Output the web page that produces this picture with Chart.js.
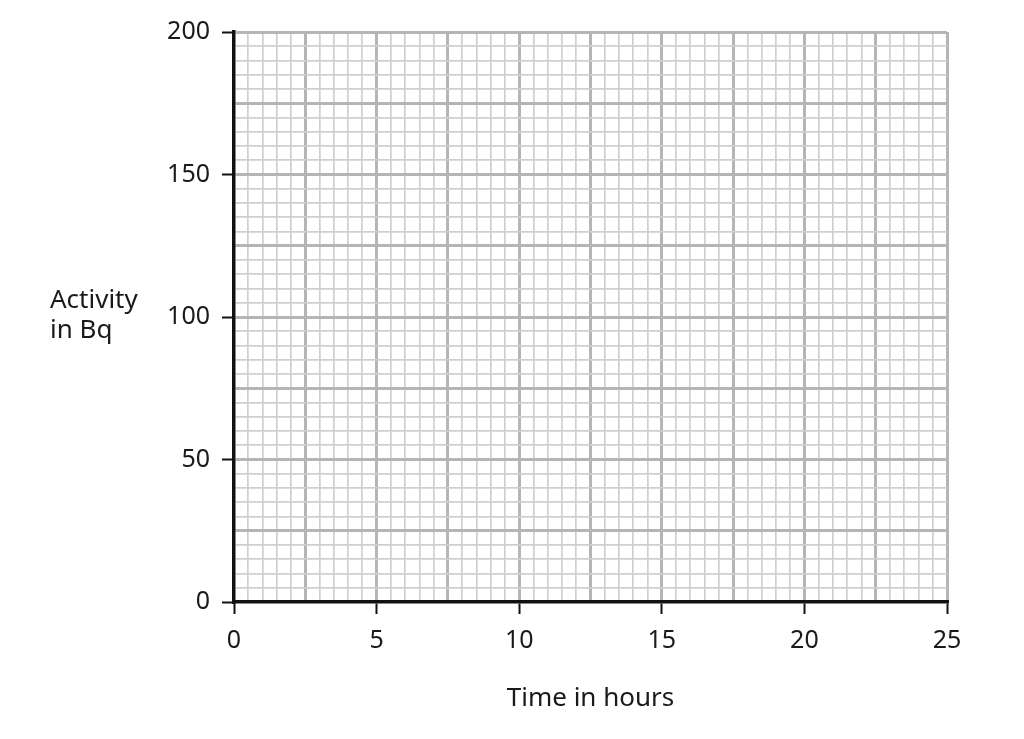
<!DOCTYPE html>
<html>
<head>
<meta charset="utf-8">
<script src="https://cdn.jsdelivr.net/npm/chart.js@4"></script>
<style>
  html, body { margin: 0; padding: 0; background: #fff; }
  #wrap { width: 1024px; height: 739px; position: relative; }
</style>
</head>
<body>
<div id="wrap"><canvas id="graph-paper" width="1024" height="739"></canvas></div>
<script>
/*----- data -----*/
const xLabels = [0, 5, 10, 15, 20, 25]
const yLabels = [0, 50, 100, 150, 200]
const xMajor = 2.5
const yMajor = 25
const xMinor = 0.5
const yMinor = 5
const xTitle = "Time in hours"
const yTitle = ["Activity", "in Bq"]
const readings = []   // empty sheet: no points plotted yet

/*----- helpers -----*/
const FONT = "'Noto Sans', 'Open Sans', sans-serif"
const near = (v, step) => Math.abs(v / step - Math.round(v / step)) < 1e-6

function gridColor(ctx, major) {
    const v = ctx.tick ? ctx.tick.value : 0
    if (v === 0) return "rgba(0,0,0,0)"
    return near(v, major) ? "#b5b5b5" : "#cfcfcf"
}
function gridWidth(ctx, major) {
    const v = ctx.tick ? ctx.tick.value : 0
    return near(v, major) ? 3 : 1.7
}

const yTitlePlugin = {
    id: "yTitle",
    afterDraw(chart) {
        const c = chart.ctx
        c.save()
        c.font = "26px " + FONT
        c.fillStyle = "#1a1a1a"
        c.textAlign = "left"
        c.textBaseline = "middle"
        c.fillText(yTitle[0], 50, 301)
        c.fillText(yTitle[1], 50, 331)
        c.restore()
    }
}

/*----- chart -----*/
new Chart(document.getElementById("graph-paper"), {
    type: "scatter",
    data: { datasets: [{ data: readings, pointRadius: 4, backgroundColor: "#000" }] },
    options: {
        responsive: false,
        animation: false,
        devicePixelRatio: 1,
        layout: { padding: { top: 32, right: 77, left: 0, bottom: 0 } },
        plugins: { legend: { display: false }, tooltip: { enabled: false } },
        scales: {
            x: {
                type: "linear",
                min: 0, max: 25,
                afterFit: (s) => { s.height = 137 },
                border: { color: "#111", width: 3.5 },
                grid: {
                    color: (ctx) => gridColor(ctx, xMajor),
                    lineWidth: (ctx) => gridWidth(ctx, xMajor),
                    tickLength: 12,
                    tickColor: (ctx) => xLabels.includes(ctx.tick.value) ? "#111" : "rgba(0,0,0,0)",
                    tickWidth: 2
                },
                ticks: {
                    stepSize: xMinor,
                    autoSkip: false,
                    maxRotation: 0,
                    padding: 12,
                    color: "#1a1a1a",
                    font: { family: FONT, size: 25 },
                    callback: (v) => xLabels.includes(v) ? String(v) : ""
                },
                title: {
                    display: true,
                    text: xTitle,
                    color: "#1a1a1a",
                    font: { family: FONT, size: 26 },
                    padding: { top: 4, bottom: 25 }
                }
            },
            y: {
                type: "linear",
                min: 0, max: 200,
                afterFit: (s) => { s.width = 234 },
                border: { color: "#111", width: 3.5 },
                grid: {
                    color: (ctx) => gridColor(ctx, yMajor),
                    lineWidth: (ctx) => gridWidth(ctx, yMajor),
                    tickLength: 12,
                    tickColor: (ctx) => yLabels.includes(ctx.tick.value) ? "#111" : "rgba(0,0,0,0)",
                    tickWidth: 2
                },
                ticks: {
                    stepSize: yMinor,
                    autoSkip: false,
                    padding: 12,
                    color: "#1a1a1a",
                    font: { family: FONT, size: 25 },
                    callback: (v) => yLabels.includes(v) ? String(v) : ""
                }
            }
        }
    },
    plugins: [yTitlePlugin]
})
</script>
</body>
</html>
